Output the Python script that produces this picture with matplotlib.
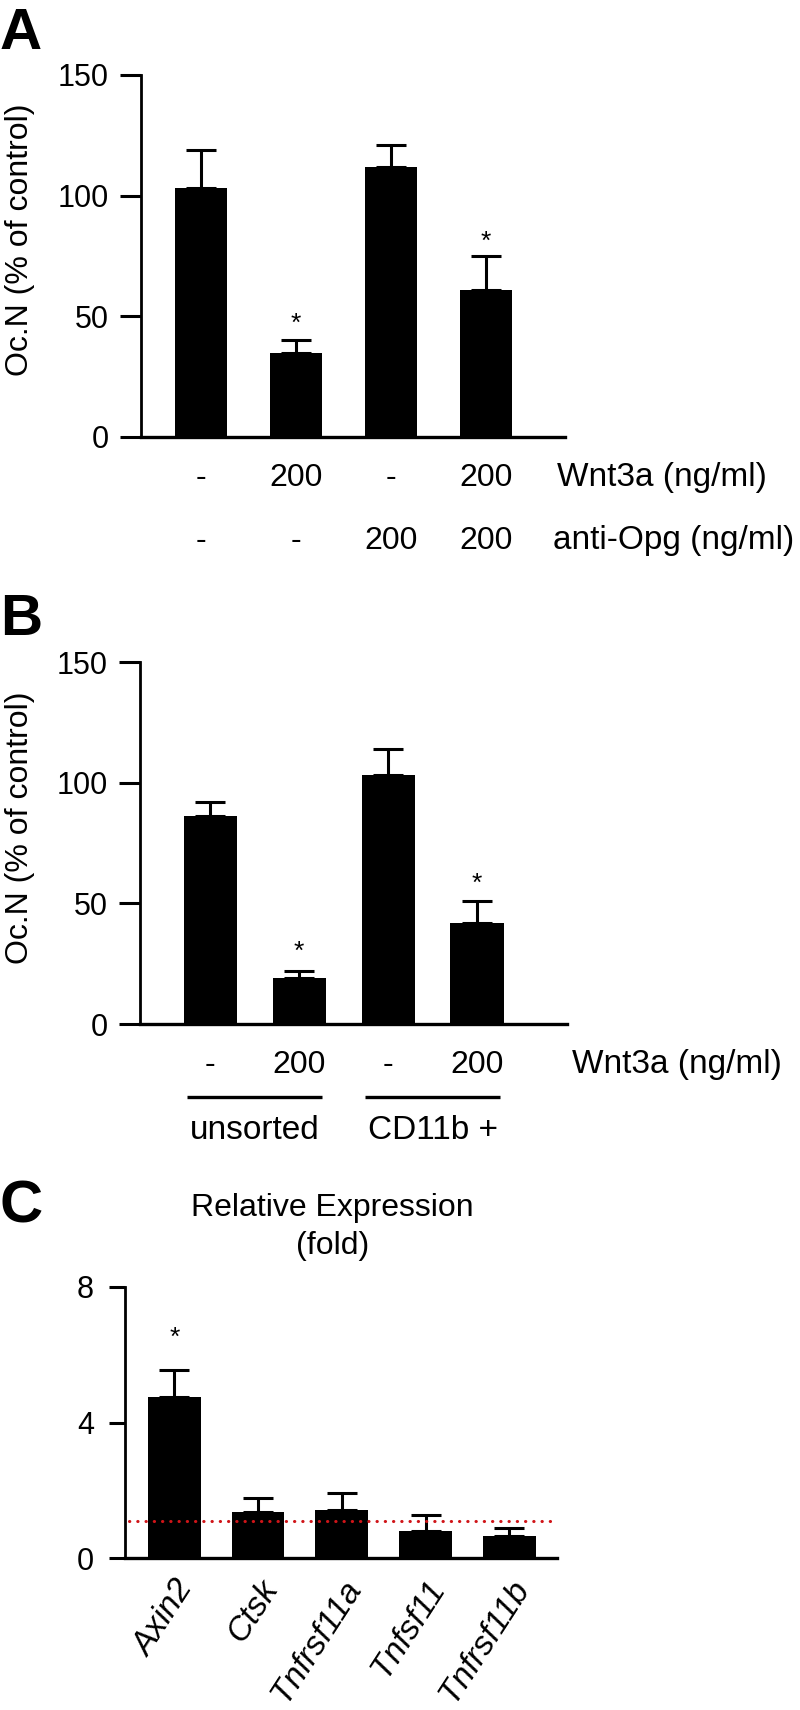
import matplotlib
matplotlib.use('Agg')
import matplotlib.pyplot as plt
import numpy as np

plt.rcParams['font.family'] = ['Liberation Sans', 'DejaVu Sans']

# ----- data -----
# Panel A
a_vals = [103, 35, 112, 61]
a_errs = [16, 5, 9, 14]
a_wnt = ['-', '200', '-', '200']
a_opg = ['-', '-', '200', '200']
a_stars = [None, 47, None, 81]

# Panel B
b_vals = [86, 19, 103, 42]
b_errs = [6, 3, 11, 9]
b_wnt = ['-', '200', '-', '200']
b_groups = ['unsorted', 'CD11b +']
b_stars = [None, 30, None, 58]

# Panel C
c_genes = ['Axin2', 'Ctsk', 'Tnfrsf11a', 'Tnfsf11', 'Tnfrsf11b']
c_vals = [4.75, 1.37, 1.42, 0.79, 0.65]
c_errs = [0.8, 0.39, 0.51, 0.49, 0.25]
c_stars = [6.5, None, None, None, None]
c_ref = 1.1

W, H = 800, 1710
fig = plt.figure(figsize=(W / 100, H / 100), dpi=100)


def px_axes(left, top, right, bottom):
    # axes rectangle given in pixel coords of the figure (origin top-left)
    return fig.add_axes([left / W, 1 - bottom / H, (right - left) / W, (bottom - top) / H])


def style_axes(ax, ticklen):
    for s in ['top', 'right']:
        ax.spines[s].set_visible(False)
    ax.spines['left'].set_linewidth(2.0)
    ax.spines['bottom'].set_linewidth(2.4)
    ax.tick_params(axis='y', direction='out', length=ticklen, width=2.2,
                   labelsize=22, pad=8)
    ax.tick_params(axis='x', length=0)


def bar_panel(ax, vals, errs, stars, width, cap):
    pos = np.arange(len(vals))
    ax.bar(pos, vals, width=width, color='black', zorder=2)
    ax.errorbar(pos, vals, yerr=[np.zeros(len(vals)), errs], fmt='none',
                ecolor='black', elinewidth=2.2, capsize=cap, capthick=2.2, zorder=2)
    for x, s in zip(pos, stars):
        if s is not None:
            ax.text(x, s, '*', ha='center', va='center', fontsize=19)
    return pos


# ===== PANEL A =====
axA = px_axes(141, 75, 565, 437)
posA = bar_panel(axA, a_vals, a_errs, a_stars, 0.55, 10.8)
axA.set_xlim(-0.632, 3.83)
axA.set_ylim(0, 150)
axA.set_yticks([0, 50, 100, 150])
style_axes(axA, 15)
axA.set_xticks([])
axA.set_ylabel('Oc.N (% of control)', fontsize=23, va='center')
axA.yaxis.set_label_coords((20 - 141) / 424, 0.544)
trA = axA.get_xaxis_transform()
for x, w, o in zip(posA, a_wnt, a_opg):
    axA.text(x, -0.113, w, transform=trA, ha='center', va='center', fontsize=23)
    axA.text(x, -0.287, o, transform=trA, ha='center', va='center', fontsize=23)
axA.text(3.75, -0.113, 'Wnt3a (ng/ml)', transform=trA, ha='left', va='center',
         fontsize=24, clip_on=False)
axA.text(3.70, -0.287, 'anti-Opg (ng/ml)', transform=trA, ha='left', va='center',
         fontsize=24, clip_on=False)

# ===== PANEL B =====
axB = px_axes(140, 662, 567, 1024)
posB = bar_panel(axB, b_vals, b_errs, b_stars, 0.6, 10.8)
axB.set_xlim(-0.79, 4.01)
axB.set_ylim(0, 150)
axB.set_yticks([0, 50, 100, 150])
style_axes(axB, 15)
axB.set_xticks([])
axB.set_ylabel('Oc.N (% of control)', fontsize=23, va='center')
axB.yaxis.set_label_coords((20 - 140) / 427, 0.541)
trB = axB.get_xaxis_transform()
for x, w in zip(posB, b_wnt):
    axB.text(x, -0.113, w, transform=trB, ha='center', va='center', fontsize=23)
axB.text(4.07, -0.113, 'Wnt3a (ng/ml)', transform=trB, ha='left', va='center',
         fontsize=24, clip_on=False)
# group underlines and names
for i, g in enumerate(b_groups):
    x0, x1 = posB[2 * i] - 0.26, posB[2 * i + 1] + 0.26
    axB.plot([x0, x1], [-0.203, -0.203], transform=trB, color='black',
             lw=2.4, clip_on=False, solid_capstyle='butt')
    axB.text((x0 + x1) / 2, -0.293, g, transform=trB, ha='center', va='center',
             fontsize=24)

# ===== PANEL C =====
axC = px_axes(125, 1287, 557, 1558)
posC = bar_panel(axC, c_vals, c_errs, c_stars, 0.63, 10.8)
axC.set_xlim(-0.59, 4.57)
axC.set_ylim(0, 8)
axC.set_yticks([0, 4, 8])
style_axes(axC, 11.5)
axC.tick_params(axis='y', pad=11)
axC.axhline(c_ref, xmin=0.01, xmax=0.995, color='#d01418', lw=2.2,
            linestyle=(0, (0.1, 2.6)), dash_capstyle='round', zorder=3)
axC.set_xticks(posC)
axC.set_xticklabels(c_genes, rotation=57, ha='right', rotation_mode='anchor',
                    fontsize=24, fontstyle='italic')
axC.tick_params(axis='x', pad=12)
axC.set_title('Relative Expression\n(fold)', fontsize=23, pad=24, x=0.48,
              linespacing=1.35)

# ===== PANEL LETTERS =====
fig.text(0 / W, 1 - 7 / H, 'A', fontsize=42, fontweight='bold', ha='left', va='top')
fig.text(0 / W, 1 - 593 / H, 'B', fontsize=42, fontweight='bold', ha='left', va='top')
fig.text(0 / W, 1 - 1179 / H, 'C', fontsize=43, fontweight='bold', ha='left', va='top')

fig.savefig('out.png', dpi=100)
